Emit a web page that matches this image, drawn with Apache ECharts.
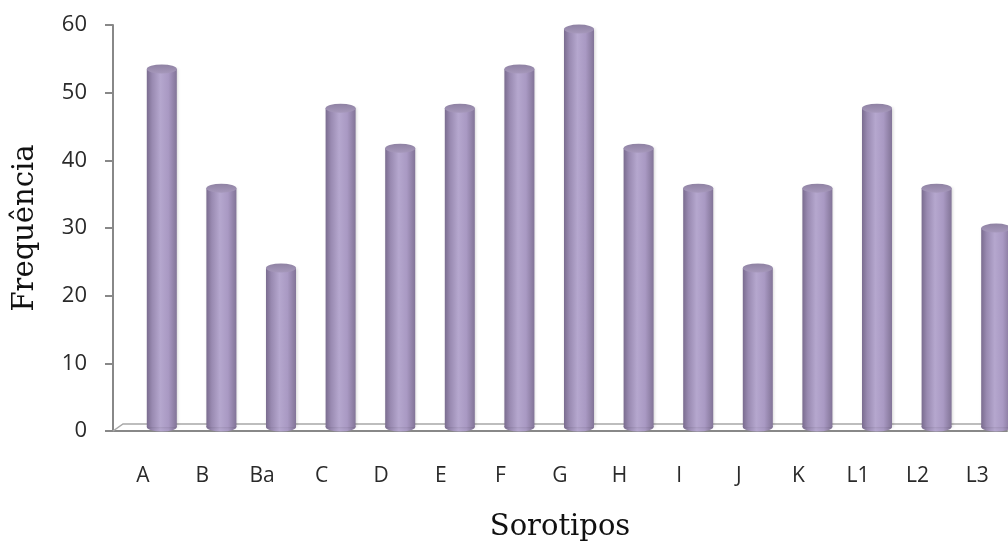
<!DOCTYPE html>
<html>
<head>
<meta charset="utf-8">
<script src="https://cdn.jsdelivr.net/npm/echarts@6/dist/echarts.min.js"></script>
<style>
  html, body { margin: 0; padding: 0; background: #fff; }
  #chart { width: 1008px; height: 544px; }
</style>
</head>
<body>
<div id="chart"></div>
<script>
// Serotype frequencies (%)
const categories = ['A', 'B', 'Ba', 'C', 'D', 'E', 'F', 'G', 'H', 'I', 'J', 'K', 'L1', 'L2', 'L3'];
const frequencies = [52.9, 35.3, 23.5, 47.1, 41.2, 47.1, 52.9, 58.8, 41.2, 35.3, 23.5, 35.3, 47.1, 35.3, 29.4];
const yTicks = [0, 10, 20, 30, 40, 50, 60];

// 3D look: depth offsets for the floor and the cylinders
const FLOOR_DX = 10, FLOOR_DY = -7;
const BAR_DX = 19, BAR_DY = -4;
const BAR_W = 30, CAP_RY = 4.5;

const bodyFill = {
  type: 'linear', x: 0, y: 0, x2: 1, y2: 0,
  colorStops: [
    { offset: 0, color: '#7a6c8f' },
    { offset: 0.18, color: '#998ab1' },
    { offset: 0.45, color: '#b5a7ce' },
    { offset: 0.72, color: '#a999c3' },
    { offset: 1, color: '#827497' }
  ]
};
const capFill = {
  type: 'linear', x: 0, y: 0, x2: 0, y2: 1,
  colorStops: [
    { offset: 0, color: '#8f82a3' },
    { offset: 1, color: '#a698bb' }
  ]
};

function renderFloor(params, api) {
  const cs = params.coordSys;
  const y0 = api.coord([0, 0])[1];
  const left = cs.x, right = cs.x + cs.width;
  return {
    type: 'polyline',
    shape: { points: [[left, y0], [left + FLOOR_DX, y0 + FLOOR_DY], [right, y0 + FLOOR_DY]] },
    style: { stroke: '#a8a8a8', lineWidth: 1.5, fill: null }
  };
}

function renderCylinder(params, api) {
  const idx = api.value(0);
  const top = api.coord([idx, api.value(1)]);
  const base = api.coord([idx, 0]);
  const cx = top[0] + BAR_DX;
  const r = BAR_W / 2;
  const yTop = top[1] + BAR_DY;
  const yBot = base[1] + BAR_DY;
  const sy = CAP_RY / r;
  return {
    type: 'group',
    children: [
      { type: 'circle', shape: { cx: 0, cy: 0, r: r }, x: cx, y: yBot, scaleY: sy,
        style: { fill: bodyFill } },
      { type: 'rect', shape: { x: cx - r, y: yTop, width: BAR_W, height: yBot - yTop },
        style: { fill: bodyFill, shadowBlur: 3, shadowColor: 'rgba(0,0,0,0.18)', shadowOffsetX: 1 } },
      { type: 'circle', shape: { cx: 0, cy: 0, r: r }, x: cx, y: yTop, scaleY: sy,
        style: { fill: capFill } }
    ]
  };
}

const chart = echarts.init(document.getElementById('chart'), null, { renderer: 'canvas' });
chart.setOption({
  animation: false,
  backgroundColor: '#ffffff',
  grid: { left: 113, right: 1, top: 25, bottom: 113, containLabel: false, outerBoundsMode: 'none' },
  xAxis: {
    type: 'category',
    data: categories,
    name: 'Sorotipos',
    nameLocation: 'middle',
    nameGap: 82,
    nameTextStyle: { fontFamily: 'DejaVu Serif', fontSize: 29, color: '#111' },
    axisLine: { show: true, lineStyle: { color: '#888888', width: 2 } },
    axisTick: { show: false },
    axisLabel: { margin: 35, fontFamily: 'Open Sans', fontSize: 21, color: '#2a2a2a' },
    splitLine: { show: false }
  },
  yAxis: {
    type: 'value',
    min: 0, max: 60, interval: 10,
    name: 'Frequência',
    nameLocation: 'middle',
    nameGap: 73,
    nameRotate: 90,
    nameTextStyle: { fontFamily: 'DejaVu Serif', fontSize: 29, color: '#111' },
    axisLine: { show: true, lineStyle: { color: '#888888', width: 2 } },
    axisTick: { show: true, inside: false, length: 8, lineStyle: { color: '#888888', width: 2 } },
    axisLabel: {
      margin: 26, fontFamily: 'Open Sans', fontSize: 22, color: '#2a2a2a',
      formatter: v => (yTicks.indexOf(v) >= 0 ? String(v) : '')
    },
    splitLine: { show: false }
  },
  series: [
    { type: 'custom', name: 'floor', renderItem: renderFloor, data: [[0]], z: 1, silent: true, clip: false },
    { type: 'custom', name: 'Frequência', renderItem: renderCylinder, z: 2, clip: false,
      encode: { x: 0, y: 1 },
      data: frequencies.map((v, i) => [i, v]) }
  ]
});
</script>
</body>
</html>
